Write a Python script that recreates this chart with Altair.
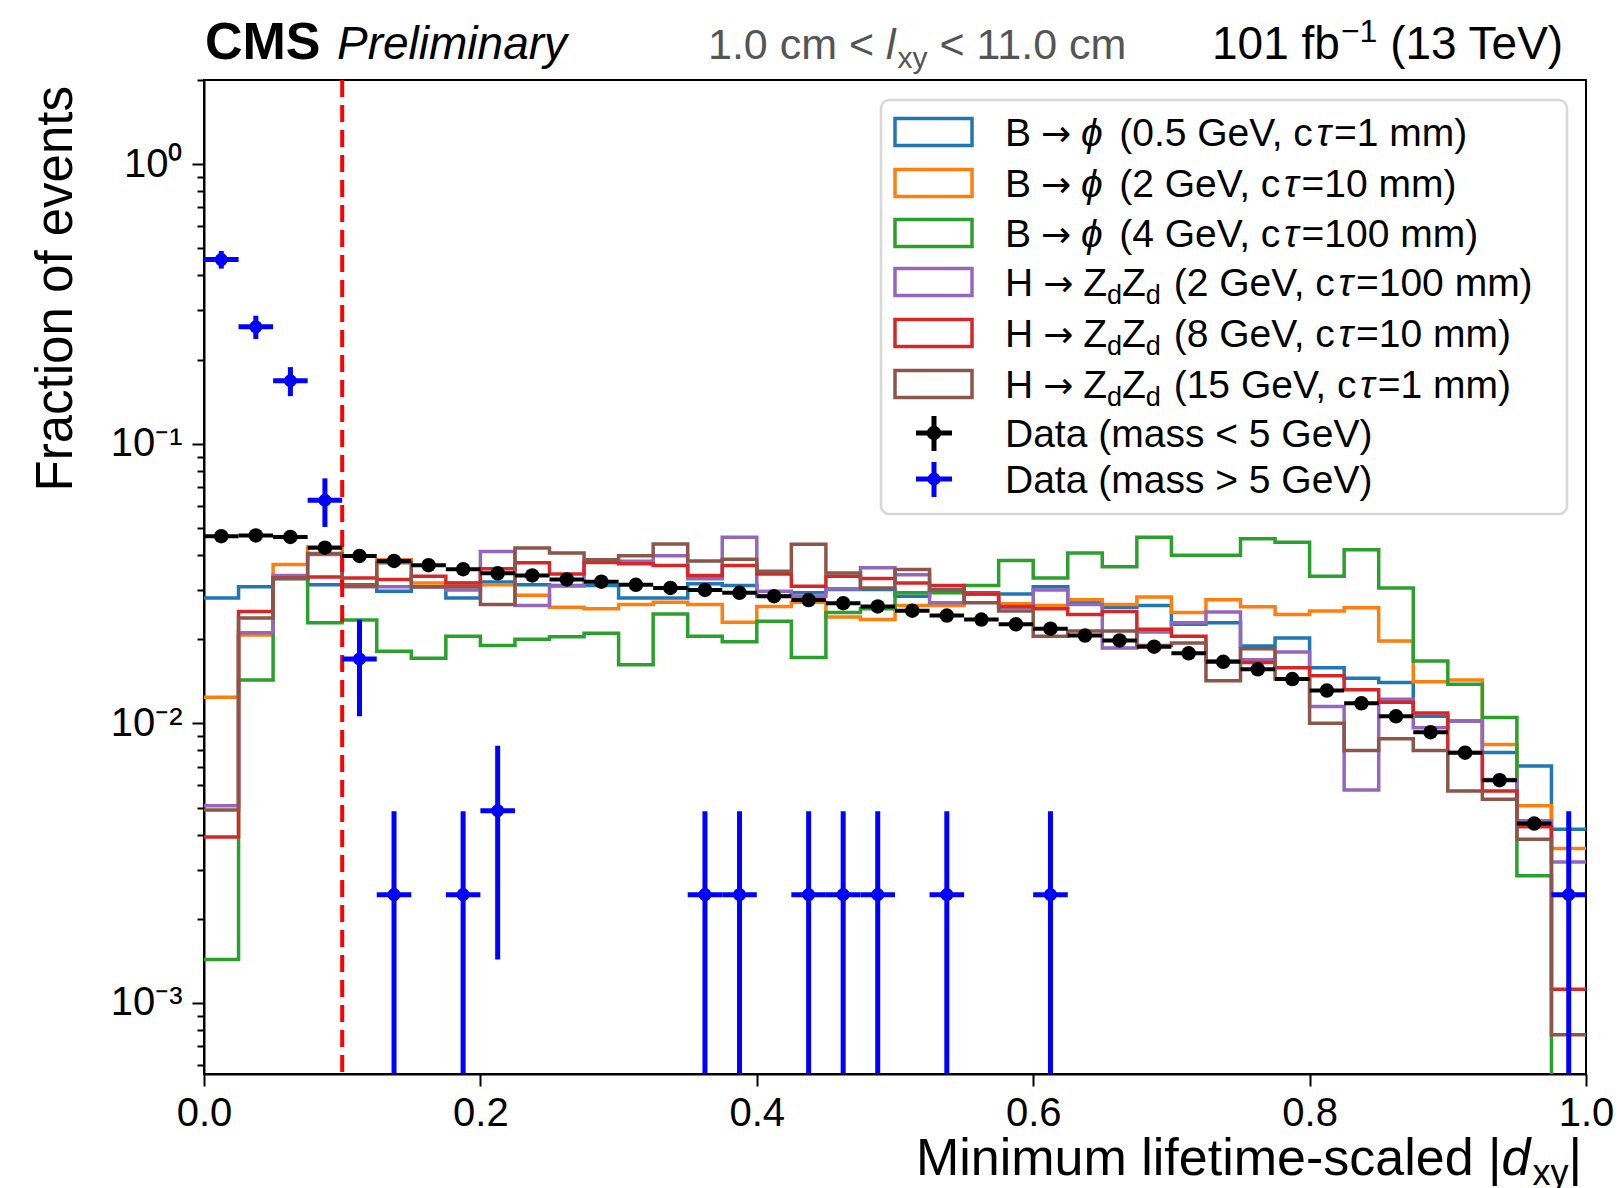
import altair as alt
import numpy as np
import pandas as pd

FONT = "Liberation Sans"

# ---------------- data ----------------
bin_edges = np.round(np.linspace(0.0, 1.0, 41), 4)
bin_centers = np.round(bin_edges[:-1] + 0.0125, 4)

colors = ["#1f77b4", "#ff7f0e", "#2ca02c", "#9467bd", "#d62728", "#8c564b"]

b_05_1 = [0.0281, 0.0308, 0.0330, 0.0313, 0.0313, 0.0297, 0.0308, 0.0281, 0.0320, 0.0313,
          0.0311, 0.0311, 0.0281, 0.0281, 0.0316, 0.0311, 0.0285, 0.0293, 0.0301, 0.0301,
          0.0285, 0.0301, 0.0293, 0.0290, 0.0308, 0.0273, 0.0260, 0.0264, 0.0226, 0.0229,
          0.0189, 0.0202, 0.0158, 0.0145, 0.0140, 0.0106, 0.0102, 0.00786, 0.00704, 0.00418]
b_2_10 = [0.0124, 0.0207, 0.0370, 0.0427, 0.0310, 0.0385, 0.0318, 0.0318, 0.0313, 0.0287,
          0.0260, 0.0257, 0.0266, 0.0271, 0.0266, 0.0230, 0.0262, 0.0271, 0.0240, 0.0235,
          0.0264, 0.0264, 0.0290, 0.0268, 0.0264, 0.0277, 0.0266, 0.0283, 0.0249, 0.0277,
          0.0261, 0.0245, 0.0252, 0.0259, 0.0197, 0.0141, 0.0143, 0.0084, 0.00507, 0.00357]
b_4_100 = [0.00143, 0.0143, 0.0330, 0.0229, 0.0234, 0.0181, 0.0171, 0.0205, 0.0190, 0.0200,
           0.0204, 0.0210, 0.0162, 0.0246, 0.0205, 0.0196, 0.0232, 0.0172, 0.0249, 0.0257,
           0.0293, 0.0293, 0.0311, 0.0382, 0.0331, 0.0407, 0.0363, 0.0463, 0.0399, 0.0399,
           0.0457, 0.0444, 0.0336, 0.0418, 0.0305, 0.0167, 0.0138, 0.0105, 0.00285, 1e-6]
h_2_100 = [0.00507, 0.0211, 0.0338, 0.0402, 0.0308, 0.0308, 0.0308, 0.0300, 0.0412, 0.0264,
           0.0310, 0.0378, 0.0380, 0.0398, 0.0329, 0.0463, 0.0297, 0.0285, 0.0303, 0.0360,
           0.0340, 0.0270, 0.0290, 0.0260, 0.0300, 0.0266, 0.0186, 0.0212, 0.0229, 0.0250,
           0.0169, 0.0180, 0.0115, 0.00578, 0.0122, 0.00965, 0.0102, 0.0063, 0.00448, 0.00319]
h_8_10 = [0.00392, 0.0251, 0.0331, 0.0334, 0.0331, 0.0327, 0.0336, 0.0318, 0.0357, 0.0375,
          0.0342, 0.0376, 0.0372, 0.0367, 0.0338, 0.0367, 0.0342, 0.0309, 0.0336, 0.0330,
          0.0318, 0.0311, 0.0290, 0.0262, 0.0257, 0.0245, 0.0251, 0.0217, 0.0205, 0.0167,
          0.0165, 0.0158, 0.0148, 0.0132, 0.0119, 0.0109, 0.00786, 0.00573, 0.00427, 0.00112]
h_15_1 = [0.0049, 0.0238, 0.0330, 0.0405, 0.0310, 0.0375, 0.0308, 0.0308, 0.0266, 0.0424,
          0.0407, 0.0385, 0.0398, 0.0438, 0.0381, 0.0386, 0.0350, 0.0437, 0.0345, 0.0305,
          0.0355, 0.0300, 0.0270, 0.0252, 0.0205, 0.0214, 0.0214, 0.0190, 0.0194, 0.0142,
          0.0185, 0.0144, 0.0100, 0.0080, 0.0088, 0.0080, 0.00573, 0.00535, 0.00385, 0.00077]
series = [b_05_1, b_2_10, b_4_100, h_2_100, h_8_10, h_15_1]

# data, mass < 5 GeV (bins 0..38)
data_low = [0.0467, 0.0470, 0.0464, 0.0425, 0.0397, 0.0381, 0.0368, 0.0356, 0.0344, 0.0338,
            0.0327, 0.0321, 0.0313, 0.0305, 0.0300, 0.0293, 0.0285, 0.0276, 0.0269, 0.0262,
            0.0253, 0.0243, 0.0235, 0.0226, 0.0218, 0.0206, 0.0198, 0.0188, 0.0178, 0.0166,
            0.0156, 0.0144, 0.0131, 0.0118, 0.0106, 0.0093, 0.00785, 0.00626, 0.00438]
# data, mass > 5 GeV
high_bins = [0, 1, 2, 3, 4, 5, 7, 8, 14, 15, 17, 18, 19, 21, 24, 39]
high_val = [0.456, 0.262, 0.168, 0.0628, 0.0170, 0.00244, 0.00244, 0.00487, 0.00244, 0.00244,
            0.00244, 0.00244, 0.00244, 0.00244, 0.00244, 0.00244]
high_lo = [0.423, 0.237, 0.148, 0.0504, 0.0106, 1e-6, 1e-6, 0.00143, 1e-6, 1e-6,
           1e-6, 1e-6, 1e-6, 1e-6, 1e-6, 1e-6]
high_hi = [0.489, 0.287, 0.188, 0.0752, 0.0235, 0.00485, 0.00485, 0.00832, 0.00485, 0.00485,
           0.00485, 0.00485, 0.00485, 0.00485, 0.00485, 0.00485]

cut_value = [0.1]

YMIN, YMAX = 5.57e-4, 2.0
x_ticks = [0.0, 0.2, 0.4, 0.6, 0.8, 1.0]
y_ticks = [m * 10.0 ** e for e in (-4, -3, -2, -1, 0) for m in range(1, 10)
           if YMIN <= m * 10.0 ** e <= YMAX * 1.0001]

# ---------------- scales / axes ----------------
xscale = alt.Scale(domain=[0, 1], nice=False, zero=False)
yscale = alt.Scale(type="log", domain=[YMIN, YMAX], nice=False)

x_axis = alt.Axis(values=x_ticks, format=".1f", title=None, labelFontSize=40, labelFont=FONT,
                  tickSize=12, tickWidth=2, labelPadding=7, labelFlush=False, labelOverlap=False,
                  domainWidth=2, domainColor="black", tickColor="black", labelColor="black")
lab_expr = ("abs(datum.value-1)<1e-9 ? '10⁰' : abs(datum.value-0.1)<1e-10 ? '10⁻¹' : "
            "abs(datum.value-0.01)<1e-11 ? '10⁻²' : abs(datum.value-0.001)<1e-12 ? '10⁻³' : ''")
major_test = "abs(log(datum.value)/LN10 - round(log(datum.value)/LN10)) < 0.001"
y_axis = alt.Axis(values=y_ticks, labelExpr=lab_expr, title=None, labelFontSize=40, labelFont=FONT,
                  tickSize={"condition": {"test": major_test, "value": 12}, "value": 7},
                  tickWidth=2, labelPadding=10, labelOverlap=False, labelFlush=False,
                  domainWidth=2, domainColor="black", tickColor="black", labelColor="black")


def X(field):
    return alt.X(field, scale=xscale, axis=x_axis)


def Y(field):
    return alt.Y(field, scale=yscale, axis=y_axis)


layers = []
for vals, col in zip(series, colors):
    df = pd.DataFrame({"edge": bin_edges, "frac": list(vals) + [vals[-1]]})
    layers.append(
        alt.Chart(df).mark_line(interpolate="step-after", color=col, strokeWidth=3.5, clip=True)
        .encode(x=X("edge:Q"), y=Y("frac:Q"))
    )

# dashed cut line
layers.append(
    alt.Chart(pd.DataFrame({"edge": cut_value})).mark_rule(
        color="#ff0000", strokeWidth=4, strokeDash=[17, 8]).encode(x=X("edge:Q"))
)

# data mass < 5
dlow = pd.DataFrame({"c": bin_centers[:len(data_low)], "frac": data_low})
dlow["lo"] = dlow["c"] - 0.0125
dlow["hi"] = dlow["c"] + 0.0125
layers.append(alt.Chart(dlow).mark_rule(color="black", strokeWidth=4).encode(
    x=X("lo:Q"), x2="hi:Q", y=Y("frac:Q")))
layers.append(alt.Chart(dlow).mark_circle(color="black", size=210, opacity=1).encode(
    x=X("c:Q"), y=Y("frac:Q")))

# data mass > 5
dhigh = pd.DataFrame({"c": bin_centers[high_bins], "frac": high_val, "elo": high_lo, "ehi": high_hi})
dhigh["lo"] = dhigh["c"] - 0.0125
dhigh["hi"] = dhigh["c"] + 0.0125
layers.append(alt.Chart(dhigh).mark_rule(color="#0000ff", strokeWidth=5, clip=True).encode(
    x=X("lo:Q"), x2="hi:Q", y=Y("frac:Q")))
layers.append(alt.Chart(dhigh).mark_rule(color="#0000ff", strokeWidth=5, clip=True).encode(
    x=X("c:Q"), y=Y("elo:Q"), y2="ehi:Q"))
layers.append(alt.Chart(dhigh).mark_circle(color="#0000ff", size=170, opacity=1).encode(
    x=X("c:Q"), y=Y("frac:Q")))

# ---------------- annotations ----------------
one = pd.DataFrame({"k": [0]})
W = {' ': 278, '(': 333, ')': 333, ',': 278, '.': 278, '=': 584, '<': 584, '>': 584,
     '-': 333, '|': 260, '−': 584, 'τ': 450, 'ϕ': 650,
     'B': 667, 'C': 722, 'D': 722, 'G': 778, 'H': 722, 'M': 833, 'P': 667, 'S': 667, 'T': 611,
     'V': 667, 'Z': 611, 'a': 556, 'b': 556, 'c': 500, 'd': 556, 'e': 556, 'f': 278, 'g': 556,
     'i': 222, 'l': 222, 'm': 833, 'n': 556, 'o': 556, 'r': 333, 's': 500, 't': 278, 'u': 556,
     'v': 500, 'x': 500, 'y': 500}


def tw(s, size):
    return sum(W.get(ch, 556) for ch in s) * size / 1000.0


texts = []


def add(text, x, y, size, weight="normal", style="normal", color="black", align="left",
        angle=0, font=FONT):
    texts.append(dict(text=text, x=x, y=y, size=size, weight=weight, style=style,
                      color=color, align=align, angle=angle, font=font))


GRAY = "#555555"
# header (plot origin is at pixel 204,80)
hy = -21
add("CMS", 1, hy, 52, weight="bold")
add("Preliminary", 133, hy, 46, style="italic")
x = 504
s = "1.0 cm <"
add(s, x, hy, 43, color=GRAY); x += tw(s + " ", 43)
add("l", x, hy, 43, style="italic", color=GRAY); x += tw("l", 43) + 2
add("xy", x, hy + 9, 30, color=GRAY); x += tw("xy", 30) + tw(" ", 43)
add("< 11.0 cm", x, hy, 43, color=GRAY)
x = 1008
s = "101 fb"
add(s, x, hy, 46); x += tw(s, 46) + 1
add("−1", x, hy - 17, 32); x += tw("−1", 32) + tw(" ", 46)
add("(13 TeV)", x, hy, 46)

# x title
ty = 1095
x = 1378 - tw("|", 52)
add("|", x, ty, 52)
x -= tw("xy", 36)
add("xy", x, ty + 10, 36)
x -= tw("d", 52) + 2
add("d", x, ty, 52, style="italic")
add("Minimum lifetime-scaled |", x, ty, 52, align="right")

# y title
add("Fraction of events", -132, 6, 51, align="right", angle=270)

# legend
LF = 39
row_c = [52, 103, 153, 202, 253, 304, 353, 399]
tx = 801
ARW = 30  # arrow advance (DejaVu Sans at 36 px)
GAP = 10


def arrow_at(x, yb):
    add("→", x, yb, 36, font="DejaVu Sans")
    return x + ARW


b_tails = [("(0.5 GeV, c", "=1 mm)"), ("(2 GeV, c", "=10 mm)"), ("(4 GeV, c", "=100 mm)")]
h_tails = [("(2 GeV, c", "=100 mm)"), ("(8 GeV, c", "=10 mm)"), ("(15 GeV, c", "=1 mm)")]


def tail(x, yb, parts):
    a, b = parts
    x += tw(" ", LF) + 2
    add(a, x, yb, LF); x += tw(a, LF)
    add("τ", x, yb, LF, style="italic"); x += tw("τ", LF)
    add(b, x, yb, LF)


for k in range(3):
    yb = row_c[k] + 14
    x = tx
    add("B", x, yb, LF); x += tw("B", LF) + GAP
    x = arrow_at(x, yb) + GAP
    add("ϕ", x, yb, LF, style="italic"); x += tw("ϕ", LF)
    tail(x, yb, b_tails[k])
for k in range(3):
    yb = row_c[k + 3] + 14
    x = tx
    add("H", x, yb, LF); x += tw("H", LF) + GAP
    x = arrow_at(x, yb) + GAP
    add("Z", x, yb, LF); x += tw("Z", LF)
    add("d", x, yb + 8, 27); x += tw("d", 27)
    add("Z", x, yb, LF); x += tw("Z", LF)
    add("d", x, yb + 8, 27); x += tw("d", 27)
    tail(x, yb, h_tails[k])
add("Data (mass < 5 GeV)", tx, row_c[6] + 14, LF)
add("Data (mass > 5 GeV)", tx, row_c[7] + 14, LF)

# legend frame
layers.append(alt.Chart(one).mark_rect(fill="white", stroke="#d4d4d4", strokeWidth=2.5,
                                       cornerRadius=8, opacity=0.9).encode(
    x=alt.value(677), x2=alt.value(1363), y=alt.value(20), y2=alt.value(434)))
for k, col in enumerate(colors):
    c = row_c[k]
    layers.append(alt.Chart(one).mark_rect(fillOpacity=0, fill="white", stroke=col, strokeWidth=3.5).encode(
        x=alt.value(691), x2=alt.value(768), y=alt.value(c - 13.5), y2=alt.value(c + 13.5)))
for c, col in ((row_c[6], "black"), (row_c[7], "#0000ff")):
    layers.append(alt.Chart(one).mark_rule(color=col, strokeWidth=5).encode(
        x=alt.value(712), x2=alt.value(748), y=alt.value(c)))
    layers.append(alt.Chart(one).mark_rule(color=col, strokeWidth=5).encode(
        x=alt.value(730), y=alt.value(c - 17), y2=alt.value(c + 18)))
    layers.append(alt.Chart(one).mark_circle(color=col, size=210 if col == "black" else 170,
                                             opacity=1).encode(x=alt.value(730), y=alt.value(c)))

for t in texts:
    kw = dict(text=t["text"], font=t["font"], fontSize=t["size"], fontWeight=t["weight"],
              fontStyle=t["style"], color=t["color"], align=t["align"], baseline="alphabetic")
    if t["angle"]:
        kw["angle"] = t["angle"]
    layers.append(alt.Chart(one).mark_text(**kw).encode(x=alt.value(t["x"]), y=alt.value(t["y"])))

chart = alt.layer(*layers).properties(
    width=1382, height=994,
    padding={"left": 204, "top": 80, "right": 35, "bottom": 114},
    autosize=alt.AutoSizeParams(type="none"),
    background="white",
).configure_view(stroke="black", strokeWidth=2).configure_axis(grid=False)

chart.save("out.html", embed_options={"renderer": "svg", "actions": False})
